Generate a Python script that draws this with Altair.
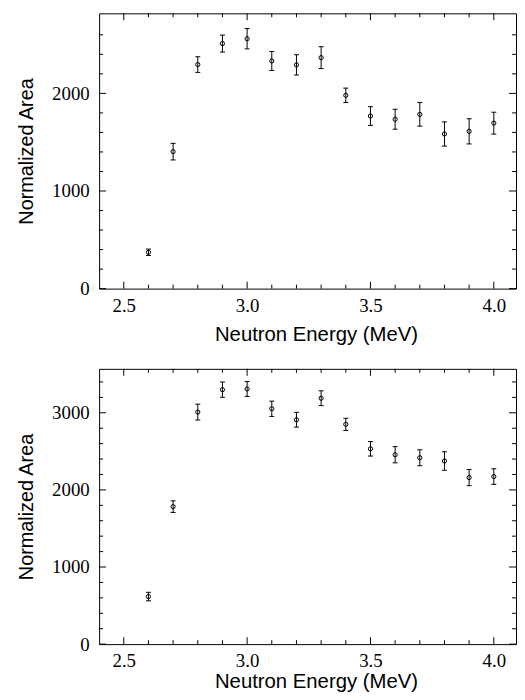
import altair as alt
import pandas as pd

# ---- data ----
energy = [2.6, 2.7, 2.8, 2.9, 3.0, 3.1, 3.2, 3.3, 3.4, 3.5, 3.6, 3.7, 3.8, 3.9, 4.0]

area_top = [372, 1403, 2295, 2510, 2560, 2332, 2292, 2366, 1980, 1768, 1735, 1785, 1584, 1611, 1695]
err_top = [33, 85, 80, 87, 104, 97, 104, 112, 74, 96, 102, 121, 124, 129, 112]

area_bot = [617, 1783, 3009, 3300, 3309, 3052, 2910, 3189, 2850, 2533, 2456, 2417, 2375, 2160, 2173]
err_bot = [55, 75, 103, 99, 96, 99, 96, 96, 79, 94, 105, 103, 120, 105, 101]

x_major = [2.5, 3.0, 3.5, 4.0]
x_minor = [2.6, 2.7, 2.8, 2.9, 3.1, 3.2, 3.3, 3.4, 3.6, 3.7, 3.8, 3.9]

y_major_top = [0, 1000, 2000]
y_minor_top = [200, 400, 600, 800, 1200, 1400, 1600, 1800, 2200, 2400, 2600]
y_major_bot = [0, 1000, 2000, 3000]
y_minor_bot = [200, 400, 600, 800, 1200, 1400, 1600, 1800, 2200, 2400, 2600, 2800, 3200, 3400]

X_DOMAIN = [2.4, 4.09]
Y_DOMAIN_TOP = [0, 2820]
Y_DOMAIN_BOT = [0, 3570]

W = 421
H = 278
MAJ = 7
MIN = 4

SERIF = "Liberation Serif"
SANS = "Liberation Sans"


def panel(areas, errs, ydomain, ymaj, ymin, title_pad):
    df = pd.DataFrame({
        "energy": energy,
        "area": areas,
        "lo": [a - e for a, e in zip(areas, errs)],
        "hi": [a + e for a, e in zip(areas, errs)],
    })
    xs = alt.Scale(domain=X_DOMAIN, nice=False, zero=False)
    ys = alt.Scale(domain=ydomain, nice=False, zero=False)

    xaxis = alt.Axis(values=x_major, format=".1f", ticks=False, tickSize=0, domain=False,
                     grid=False, labelFont=SERIF, labelFontSize=19, labelPadding=8,
                     labelFlush=False, labelColor="black",
                     title="Neutron Energy (MeV)", titleFont=SANS, titleFontSize=20.5,
                     titleFontWeight="normal", titlePadding=title_pad, titleColor="black",
                     titleX=219, titleAlign="center")
    yaxis = alt.Axis(values=ymaj, format="d", ticks=False, tickSize=0, domain=False,
                     grid=False, labelFont=SERIF, labelFontSize=19, labelPadding=10,
                     labelColor="black",
                     title="Normalized Area", titleFont=SANS, titleFontSize=20,
                     titleFontWeight="normal", titlePadding=15, titleColor="black")

    def X(f):
        return alt.X(f, scale=xs, axis=xaxis)

    def Y(f):
        return alt.Y(f, scale=ys, axis=yaxis)

    base = alt.Chart(df)
    points = base.mark_point(shape="circle", filled=False, size=18, strokeWidth=1,
                             color="black", opacity=1).encode(x=X("energy:Q"), y=Y("area:Q"))
    bars = base.mark_rule(color="black", strokeWidth=1).encode(
        x=X("energy:Q"), y=Y("lo:Q"), y2="hi:Q")
    cap_lo = base.mark_tick(color="black", orient="horizontal", size=5, thickness=1,
                            opacity=1).encode(x=X("energy:Q"), y=Y("lo:Q"))
    cap_hi = base.mark_tick(color="black", orient="horizontal", size=5, thickness=1,
                            opacity=1).encode(x=X("energy:Q"), y=Y("hi:Q"))

    layers = [bars, cap_lo, cap_hi, points]

    # inward ticks on all four sides
    for vals, ln in ((ymaj, MAJ), (ymin, MIN)):
        d = alt.Chart(pd.DataFrame({"v": vals}))
        layers.append(d.mark_rule(color="black", strokeWidth=1).encode(
            y=Y("v:Q"), x=alt.value(0), x2=alt.value(ln)))
        layers.append(d.mark_rule(color="black", strokeWidth=1).encode(
            y=Y("v:Q"), x=alt.value(W - ln), x2=alt.value(W)))
    for vals, ln in ((x_major, MAJ), (x_minor, MIN)):
        d = alt.Chart(pd.DataFrame({"v": vals}))
        layers.append(d.mark_rule(color="black", strokeWidth=1).encode(
            x=X("v:Q"), y=alt.value(0), y2=alt.value(ln)))
        layers.append(d.mark_rule(color="black", strokeWidth=1).encode(
            x=X("v:Q"), y=alt.value(H - ln), y2=alt.value(H)))

    return alt.layer(*layers).properties(width=W, height=H)


top = panel(area_top, err_top, Y_DOMAIN_TOP, y_major_top, y_minor_top, 9)
bot = panel(area_bot, err_bot, Y_DOMAIN_BOT, y_major_bot, y_minor_bot, 1)

chart = alt.vconcat(top, bot, spacing=23).properties(
    padding={"left": 8, "top": 1, "right": 0, "bottom": 0},
    background="white",
).configure_view(stroke="black", strokeWidth=1)

chart.save("out.html", embed_options={"renderer": "svg", "actions": False})
